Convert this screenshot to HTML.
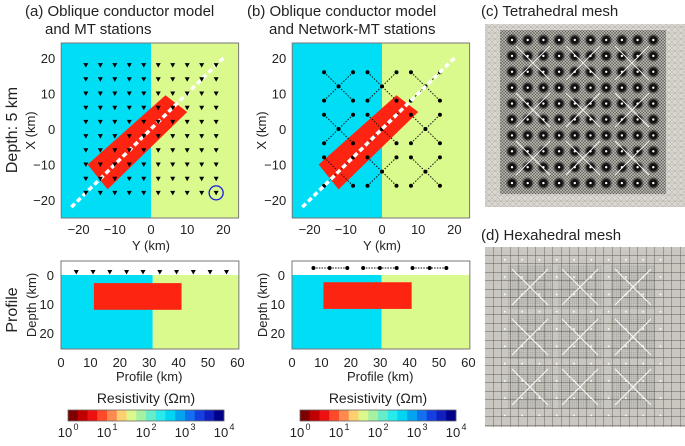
<!DOCTYPE html>
<html><head><meta charset="utf-8"><style>
body{margin:0;background:#fff;}
svg text{font-family:"Liberation Sans",Arial,sans-serif;fill:#222;}
</style></head><body>
<svg id="fig" width="685" height="441" viewBox="0 0 685 441" xmlns="http://www.w3.org/2000/svg">
<defs>
<pattern id="hexgrid" width="8.5" height="8.5" patternUnits="userSpaceOnUse"><rect width="8.5" height="8.5" fill="#c9c7c0"/><path d="M0 0H8.5M0 0V8.5" stroke="#5e5c57" stroke-width="0.9"/></pattern>
<pattern id="finegrid" width="2.2" height="2.2" patternUnits="userSpaceOnUse"><path d="M0 0H2.2M0 0V2.2" stroke="#4a4946" stroke-width="0.5"/></pattern>
<pattern id="tetra" width="6" height="6" patternUnits="userSpaceOnUse"><rect width="6" height="6" fill="#d9d7d0"/><path d="M0 0L6 6M0 6L6 0M0 3H6" stroke="#a8a69e" stroke-width="0.4"/></pattern>
<pattern id="tetradense" width="3" height="3" patternUnits="userSpaceOnUse"><rect width="3" height="3" fill="#a9a7a0"/><path d="M0 0L3 3M0 3L3 0" stroke="#3a3a38" stroke-width="0.5"/></pattern>
<radialGradient id="blob"><stop offset="0" stop-color="#000"/><stop offset="0.55" stop-color="#111" stop-opacity="0.95"/><stop offset="1" stop-color="#333" stop-opacity="0"/></radialGradient>
</defs>
<g id="root"></g>
</svg>
<script>
// ---- data ----
const stationY = [-18,-14,-10,-6,-2,2,6,10,14,18];
const stationX = [18,14,10,6,2,-2,-6,-10,-14,-18];
const conductorY = [-17.5,4,10,-12];
const conductorX = [-10,9.5,4.8,-17];
const profileLine = [-22,20];
const netCentersY = [-12,0,12];
const netCentersX = [12,0,-12];
const netHalf = 4;
const mapTicks = [-20,-10,0,10,20];
const profTicks = [0,10,20,30,40,50,60];
const depthTicks = [0,10,20];
const profStationsA = [5.2,10.9,16.6,22.3,27.9,33.6,39.3,45,50.7,56.3];
const profStationsB = [7.3,12.8,18.8,24.2,29.9,35.6,41,46.8,52.5];
const boundaryA = 31.2, boundaryB = 30.5;
const condProfA = [11.2,41,2.8,12];
const condProfB = [10.7,40.7,2.5,11.7];
const cbColors = ["#7f0000","#c00000","#ee1010","#ff4a2a","#ff8a50","#ffd070","#dcf88c","#a6f0a2","#66ecc8","#28eaea","#00d6f4","#00a4f0","#1070f0","#1440e0","#1020c0","#000088"];
const cbExp = [0,1,2,3,4];

const NS="http://www.w3.org/2000/svg";
const root=document.getElementById('root');
function mk(tag,attrs,parent,txt){const e=document.createElementNS(NS,tag);for(const k in attrs)e.setAttribute(k,attrs[k]);if(txt!==undefined)e.textContent=txt;(parent||root).appendChild(e);return e;}
const BLUE="#00def6", YEL="#dbfa8e", RED="#fe2412";

function mapPanel(cx, name, network){
  const sx=Y=>cx+Y*3.62, sy=X=>129-X*3.55;
  const g=mk('g',{});
  
  
  const L=sx(-24.8), R=sx(24.2), T=43, B=218;
  mk('rect',{x:L,y:T,width:sx(0)-L,height:B-T,fill:BLUE},g);
  mk('rect',{x:sx(0),y:T,width:R-sx(0),height:B-T,fill:YEL},g);
  const pts=conductorY.map((y,i)=>sx(y)+','+sy(conductorX[i])).join(' ');
  const c=mk('polygon',{points:pts,fill:RED},g);
  
  
  if(network){
    netCentersY.forEach(cy=>netCentersX.forEach(cxv=>{
      [[-1,-1,1,1],[-1,1,1,-1]].forEach(d=>{
        mk('line',{x1:sx(cy+d[0]*netHalf),y1:sy(cxv+d[1]*netHalf),x2:sx(cy+d[2]*netHalf),y2:sy(cxv+d[3]*netHalf),stroke:'#111','stroke-width':1,'stroke-dasharray':'1.5 1.5'},g);
      });
      [[0,0],[-1,-1],[-1,1],[1,-1],[1,1]].forEach(o=>{
        const d=mk('circle',{cx:sx(cy+o[0]*netHalf),cy:sy(cxv+o[1]*netHalf),r:2,fill:'#000'},g);
        
        
      });
    }));
  }
  const ln=mk('line',{x1:sx(profileLine[0]),y1:sy(profileLine[0]),x2:sx(profileLine[1]),y2:sy(profileLine[1]),stroke:'#fff','stroke-width':3.5,'stroke-dasharray':'5 3'},g);
  
  
  if(!network){
    stationX.forEach(X=>stationY.forEach(Y=>{
      const x=sx(Y),y=sy(X);
      const t=mk('polygon',{points:`${x-2.5},${y-2} ${x+2.5},${y-2} ${x},${y+2.5}`,fill:'#000'},g);
      
      
    }));
    const ci=mk('circle',{cx:sx(18),cy:sy(-18),r:7,fill:'none',stroke:'#1a1ae0','stroke-width':1.3},g);
    
    
  }
  mk('rect',{x:L,y:T,width:R-L,height:B-T,fill:'none',stroke:'#777','stroke-width':1},g);
  mapTicks.forEach(v=>{
    const t1=mk('text',{x:sx(v),y:234,'font-size':13,'text-anchor':'middle'},g,v<0?'\u2212'+(-v):v);
    
    
    const t2=mk('text',{x:L-6,y:sy(v)+5,'font-size':13,'text-anchor':'end'},g,v<0?'\u2212'+(-v):v);
    
    
  });
  const xt=mk('text',{x:sx(0),y:250,'font-size':13,'text-anchor':'middle'},g,'Y (km)');
  
  
  const yt=mk('text',{x:0,y:0,'font-size':13,'text-anchor':'middle',transform:`translate(${L-26},${(T+B)/2}) rotate(-90)`},g,'X (km)');
  
  
}
function profPanel(x0, name, bnd, cond, stations, network){
  const px=p=>x0+p*2.94, py=d=>275+d*2.9;
  const g=mk('g',{});
  
  
  const L=px(0), R=px(60.5), T=261, B=349;
  mk('rect',{x:L,y:T,width:R-L,height:B-T,fill:'#fff'},g);
  mk('rect',{x:L,y:py(0),width:px(bnd)-L,height:B-py(0),fill:BLUE},g);
  mk('rect',{x:px(bnd),y:py(0),width:R-px(bnd),height:B-py(0),fill:YEL},g);
  const c=mk('rect',{x:px(cond[0]),y:py(cond[2]),width:px(cond[1])-px(cond[0]),height:py(cond[3])-py(cond[2]),fill:RED},g);
  
  
  if(network){
    for(let i=0;i<stations.length;i+=3){
      mk('line',{x1:px(stations[i]),y1:268,x2:px(stations[i+2]),y2:268,stroke:'#111','stroke-width':1,'stroke-dasharray':'1.5 1.2'},g);
    }
    stations.forEach(s=>{const d=mk('circle',{cx:px(s),cy:268,r:2,fill:'#000'},g);
      
      });
  } else {
    stations.forEach(s=>{const x=px(s);const t=mk('polygon',{points:`${x-2.5},${270} ${x+2.5},${270} ${x},${274.5}`,fill:'#000'},g);
      
      });
  }
  mk('rect',{x:L,y:T,width:R-L,height:B-T,fill:'none',stroke:'#777','stroke-width':1},g);
  profTicks.forEach(v=>{const t=mk('text',{x:px(v),y:367,'font-size':13,'text-anchor':'middle'},g,v);
    
    });
  depthTicks.forEach(v=>{const t=mk('text',{x:L-7,y:py(v)+5,'font-size':13,'text-anchor':'end'},g,v);
    
    });
  const xt=mk('text',{x:px(30),y:381,'font-size':13,'text-anchor':'middle'},g,'Profile (km)');
  
  
  const yt=mk('text',{x:0,y:0,'font-size':13,'text-anchor':'middle',transform:`translate(${L-25},${(T+B)/2}) rotate(-90)`},g,'Depth (km)');
  
  
}
function colorbar(x0,x1,name){
  const g=mk('g',{});
  
  
  const w=(x1-x0)/cbColors.length;
  cbColors.forEach((c,i)=>mk('rect',{x:x0+i*w,y:410,width:w+0.3,height:11,fill:c},g));
  mk('rect',{x:x0,y:410,width:x1-x0,height:11,fill:'none',stroke:'#666','stroke-width':0.8},g);
  cbExp.forEach(e=>{const x=x0+(x1-x0)*e/4;
    const t=mk('text',{x:x-3,y:437,'font-size':13,'text-anchor':'middle'},g,'10');
    
    
    mk('text',{x:x+8,y:430,'font-size':9,'text-anchor':'middle'},g,e);
  });
  const tt=mk('text',{x:(x0+x1)/2,y:403,'font-size':14,'text-anchor':'middle'},g,'Resistivity (\u03A9m)');
  
  
}
mapPanel(151,'panel-a',false);
mapPanel(382,'panel-b',true);
profPanel(61,'panel-a',boundaryA,condProfA,profStationsA,false);
profPanel(292,'panel-b',boundaryB,condProfB,profStationsB,true);
colorbar(68,224,'colorbar-a');
colorbar(300,456,'colorbar-b');

// titles
[[25,16,'(a) Oblique conductor model'],[45,34,'and MT stations'],[247,16,'(b) Oblique conductor model'],[269,34,'and Network-MT stations'],[481,16,'(c) Tetrahedral mesh'],[481,240,'(d) Hexahedral mesh']].forEach(t=>{
  const e=mk('text',{x:t[0],y:t[1],'font-size':15},root,t[2]);
  
  
});
const d5=mk('text',{x:0,y:0,'font-size':16,'text-anchor':'middle',transform:'translate(17,130) rotate(-90)'},root,'Depth: 5 km');


const pf=mk('text',{x:0,y:0,'font-size':16,'text-anchor':'middle',transform:'translate(17,310) rotate(-90)'},root,'Profile');



// mesh (c)
const gc=mk('g',{});


mk('rect',{x:485,y:24,width:200,height:183,fill:'url(#tetra)'},gc);
mk('rect',{x:500,y:30,width:166,height:164,fill:'url(#tetradense)',opacity:0.8},gc);
for(let i=0;i<10;i++)for(let j=0;j<10;j++){
  mk('circle',{cx:512+i*15.7,cy:40+j*15.9,r:6.5,fill:'url(#blob)'},gc);
}
[533,583,632].forEach(x=>[63,110,158].forEach(y=>{
  mk('path',{d:`M${x-17} ${y-17}L${x+17} ${y+17}M${x-17} ${y+17}L${x+17} ${y-17}`,stroke:'#eee','stroke-width':1},gc);
}));
for(let i=0;i<10;i++)for(let j=0;j<10;j++){
  mk('circle',{cx:512+i*15.7,cy:40+j*15.9,r:1.2,fill:'#fff'},gc);
}
// mesh (d)
const gd=mk('g',{});


mk('rect',{x:485,y:247,width:200,height:180,fill:'url(#hexgrid)'},gd);
[530,580,633].forEach(x=>[287,337,387].forEach(y=>{
  mk('rect',{x:x-22,y:y-22,width:44,height:44,fill:'url(#finegrid)',opacity:0.5},gd);
  mk('path',{d:`M${x-18} ${y-18}L${x+18} ${y+18}M${x-18} ${y+18}L${x+18} ${y-18}`,stroke:'#f4f4f4','stroke-width':1.2},gd);
}));
for(let i=0;i<10;i++)for(let j=0;j<10;j++){
  mk('rect',{x:504+i*17.3,y:259+j*17.3,width:1.6,height:1.6,fill:'#fff'},gd);
}
</script>
</body></html>
